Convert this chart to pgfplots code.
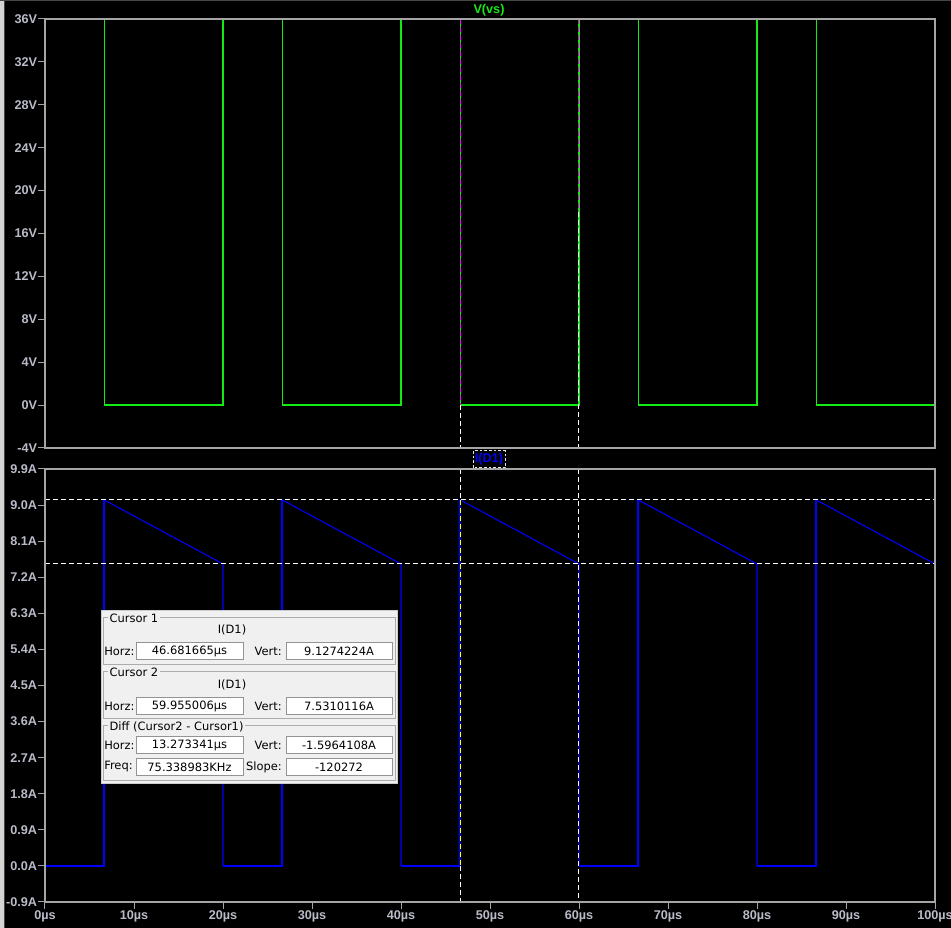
\documentclass[border=0pt]{standalone}
\usepackage{pgfplots}
\pgfplotsset{compat=1.18}
\usepackage{fontspec}
\setmainfont{Liberation Sans}
\newfontfamily\boxfont{DejaVu Sans}
\definecolor{vgreen}{RGB}{20,235,20}
\definecolor{iblue}{RGB}{0,0,255}
\definecolor{axgray}{RGB}{165,165,165}
\definecolor{lblgray}{RGB}{185,188,200}
\definecolor{panel}{RGB}{240,240,240}
\definecolor{cmag}{RGB}{255,0,255}
\definecolor{cyel}{RGB}{255,255,0}
\definecolor{winlight}{RGB}{212,212,212}
\definecolor{windark}{RGB}{70,70,70}
\newcommand\bx{\boxfont\fontsize{8.6}{10}\selectfont}
\newcommand\fld[5]{\filldraw[fill=white, draw=gray!85, line width=0.6pt] (#1,#2) rectangle (#3,#4);
  \node[font=\bx, text=black, inner sep=0pt] at ({(#1+#3)/2},{(#2+#4)/2+0.5}) {#5};}
\begin{document}
\begin{tikzpicture}
\path[use as bounding box, fill=black] (0,0) rectangle (713.25pt,696pt);
\pgfplotsset{
  ltaxis/.style={scale only axis, width=667.5pt, xmin=0, xmax=100, axis on top, clip=false,
    axis line style={draw=axgray, line width=1pt},
    tick pos=left, tick align=outside, major tick length=5.25pt,
    tick style={draw=axgray, line width=0.75pt},
    tick label style={font=\bfseries\fontsize{9.5}{11}\selectfont, text=lblgray},
    yticklabel style={inner sep=0.5pt, anchor=east},
    xticklabel style={inner sep=1pt},
  },
  cur/.style={line width=0.75pt, dash pattern=on 3.75pt off 2.25pt},
}
% ---------- top: V(vs)
\begin{axis}[ltaxis, at={(33.75pt,360pt)}, anchor=south west, height=321.75pt,
  ymin=-4, ymax=36, xtick=\empty,
  ytick={-4,0,4,8,12,16,20,24,28,32,36},
  yticklabels={-4V,0V,4V,8V,12V,16V,20V,24V,28V,32V,36V}]
\addplot[vgreen, line width=1.2pt] coordinates {
 (0,0) (0,36) (6.667,36) (6.667,0) (20,0) (20,36) (26.667,36) (26.667,0)
 (40,0) (40,36) (46.667,36) (46.667,0) (60,0) (60,36) (66.667,36) (66.667,0)
 (80,0) (80,36) (86.667,36) (86.667,0) (100,0)};
\addplot[cmag, cur] coordinates {(46.682,36) (46.682,0)};
\addplot[white, cur] coordinates {(46.682,0) (46.682,-4)};
\addplot[cmag, cur] coordinates {(59.955,36) (59.955,18)};
\addplot[white, cur] coordinates {(59.955,18) (59.955,-4)};
\end{axis}
% ---------- bottom: I(D1)
\begin{axis}[ltaxis, at={(33.75pt,19.5pt)}, anchor=south west, height=324.75pt,
  ymin=-0.9, ymax=9.9, unbounded coords=jump,
  ytick={-0.9,0,0.9,1.8,2.7,3.6,4.5,5.4,6.3,7.2,8.1,9.0,9.9},
  yticklabels={-0.9A,0.0A,0.9A,1.8A,2.7A,3.6A,4.5A,5.4A,6.3A,7.2A,8.1A,9.0A,9.9A},
  xtick={0,10,20,30,40,50,60,70,80,90,100},
  xticklabels={0µs,10µs,20µs,30µs,40µs,50µs,60µs,70µs,80µs,90µs,100µs}]
\addplot[iblue, line width=0.8pt] coordinates {
 (0,0) (6.667,0) (6.667,9.127) (20,7.531) (20,0) (26.667,0) (26.667,9.127) (40,7.531) (40,0)
 (46.667,0) (46.667,9.127) (60,7.531) (60,0) (66.667,0) (66.667,9.127) (80,7.531) (80,0)
 (86.667,0) (86.667,9.127) (100,7.531)};
\addplot[iblue, line width=1.5pt] coordinates {
 (0,0) (6.667,0) (6.667,9.127) (nan,nan)
 (20,0) (26.667,0) (26.667,9.127) (nan,nan)
 (40,0) (46.667,0) (46.667,9.127) (nan,nan)
 (60,0) (66.667,0) (66.667,9.127) (nan,nan)
 (80,0) (86.667,0) (86.667,9.127)};
\addplot[white, cur] coordinates {(0,9.1274) (100,9.1274)};
\addplot[white, cur] coordinates {(0,7.5310) (100,7.5310)};
\addplot[white, cur] coordinates {(46.682,9.9) (46.682,9.1274)};
\addplot[cyel, cur] coordinates {(46.682,9.1274) (46.682,0)};
\addplot[white, cur] coordinates {(46.682,0) (46.682,-0.9)};
\addplot[white, cur] coordinates {(59.955,9.9) (59.955,-0.9)};
\end{axis}
% ---------- annotations in image pixel coordinates
\begin{scope}[x=0.75pt, y=-0.75pt, shift={(0pt,696pt)}]
\fill[winlight] (0,0) rectangle (4,928);
\fill[windark] (4,0) rectangle (5.2,928);
\fill[windark] (0,0) rectangle (951,1.2);
\node[text=vgreen, font=\bfseries\fontsize{9.5}{11}\selectfont] at (489,10) {V(vs)};
\draw[white!80!gray, line width=0.75pt, dash pattern=on 2pt off 1.5pt] (473,451) rectangle (505,468);
\node[text=iblue, font=\bfseries\fontsize{9.5}{11}\selectfont, inner sep=0pt] at (489,459.5) {I(D1)};
% cursor panel
\filldraw[fill=panel, draw=gray!40, line width=0.6pt] (101,610) rectangle (397,783);
\draw[gray!65, line width=0.6pt] (103,617) rectangle (395,664);
\draw[gray!65, line width=0.6pt] (103,671) rectangle (395,718);
\draw[gray!65, line width=0.6pt] (103,725) rectangle (395,780);
\node[anchor=west, fill=panel, inner sep=1pt, font=\bx] at (108,618.5) {Cursor 1};
\node[anchor=west, fill=panel, inner sep=1pt, font=\bx] at (108,672.5) {Cursor 2};
\node[anchor=west, fill=panel, inner sep=1pt, font=\bx] at (108,726.5) {Diff (Cursor2 - Cursor1)};
\node[font=\bx] at (232,630) {I(D1)};
\node[font=\bx] at (232,685) {I(D1)};
\node[anchor=west, font=\bx, inner sep=0pt] at (104,651) {Horz:};
\node[anchor=east, font=\bx, inner sep=0pt] at (282,651) {Vert:};
\node[anchor=west, font=\bx, inner sep=0pt] at (104,706) {Horz:};
\node[anchor=east, font=\bx, inner sep=0pt] at (282,706) {Vert:};
\node[anchor=west, font=\bx, inner sep=0pt] at (104,745) {Horz:};
\node[anchor=east, font=\bx, inner sep=0pt] at (282,745) {Vert:};
\node[anchor=west, font=\bx, inner sep=0pt] at (104,767) {Freq:};
\node[anchor=east, font=\bx, inner sep=0pt] at (282,767) {Slope:};
\fld{136}{642}{243}{659}{46.681665µs}
\fld{286}{642}{392}{659}{9.1274224A}
\fld{136}{697}{243}{714}{59.955006µs}
\fld{286}{697}{392}{714}{7.5310116A}
\fld{136}{736}{243}{753}{13.273341µs}
\fld{286}{736}{392}{753}{-1.5964108A}
\fld{136}{758}{243}{775}{75.338983KHz}
\fld{286}{758}{392}{775}{-120272}
\end{scope}
\end{tikzpicture}
\end{document}
